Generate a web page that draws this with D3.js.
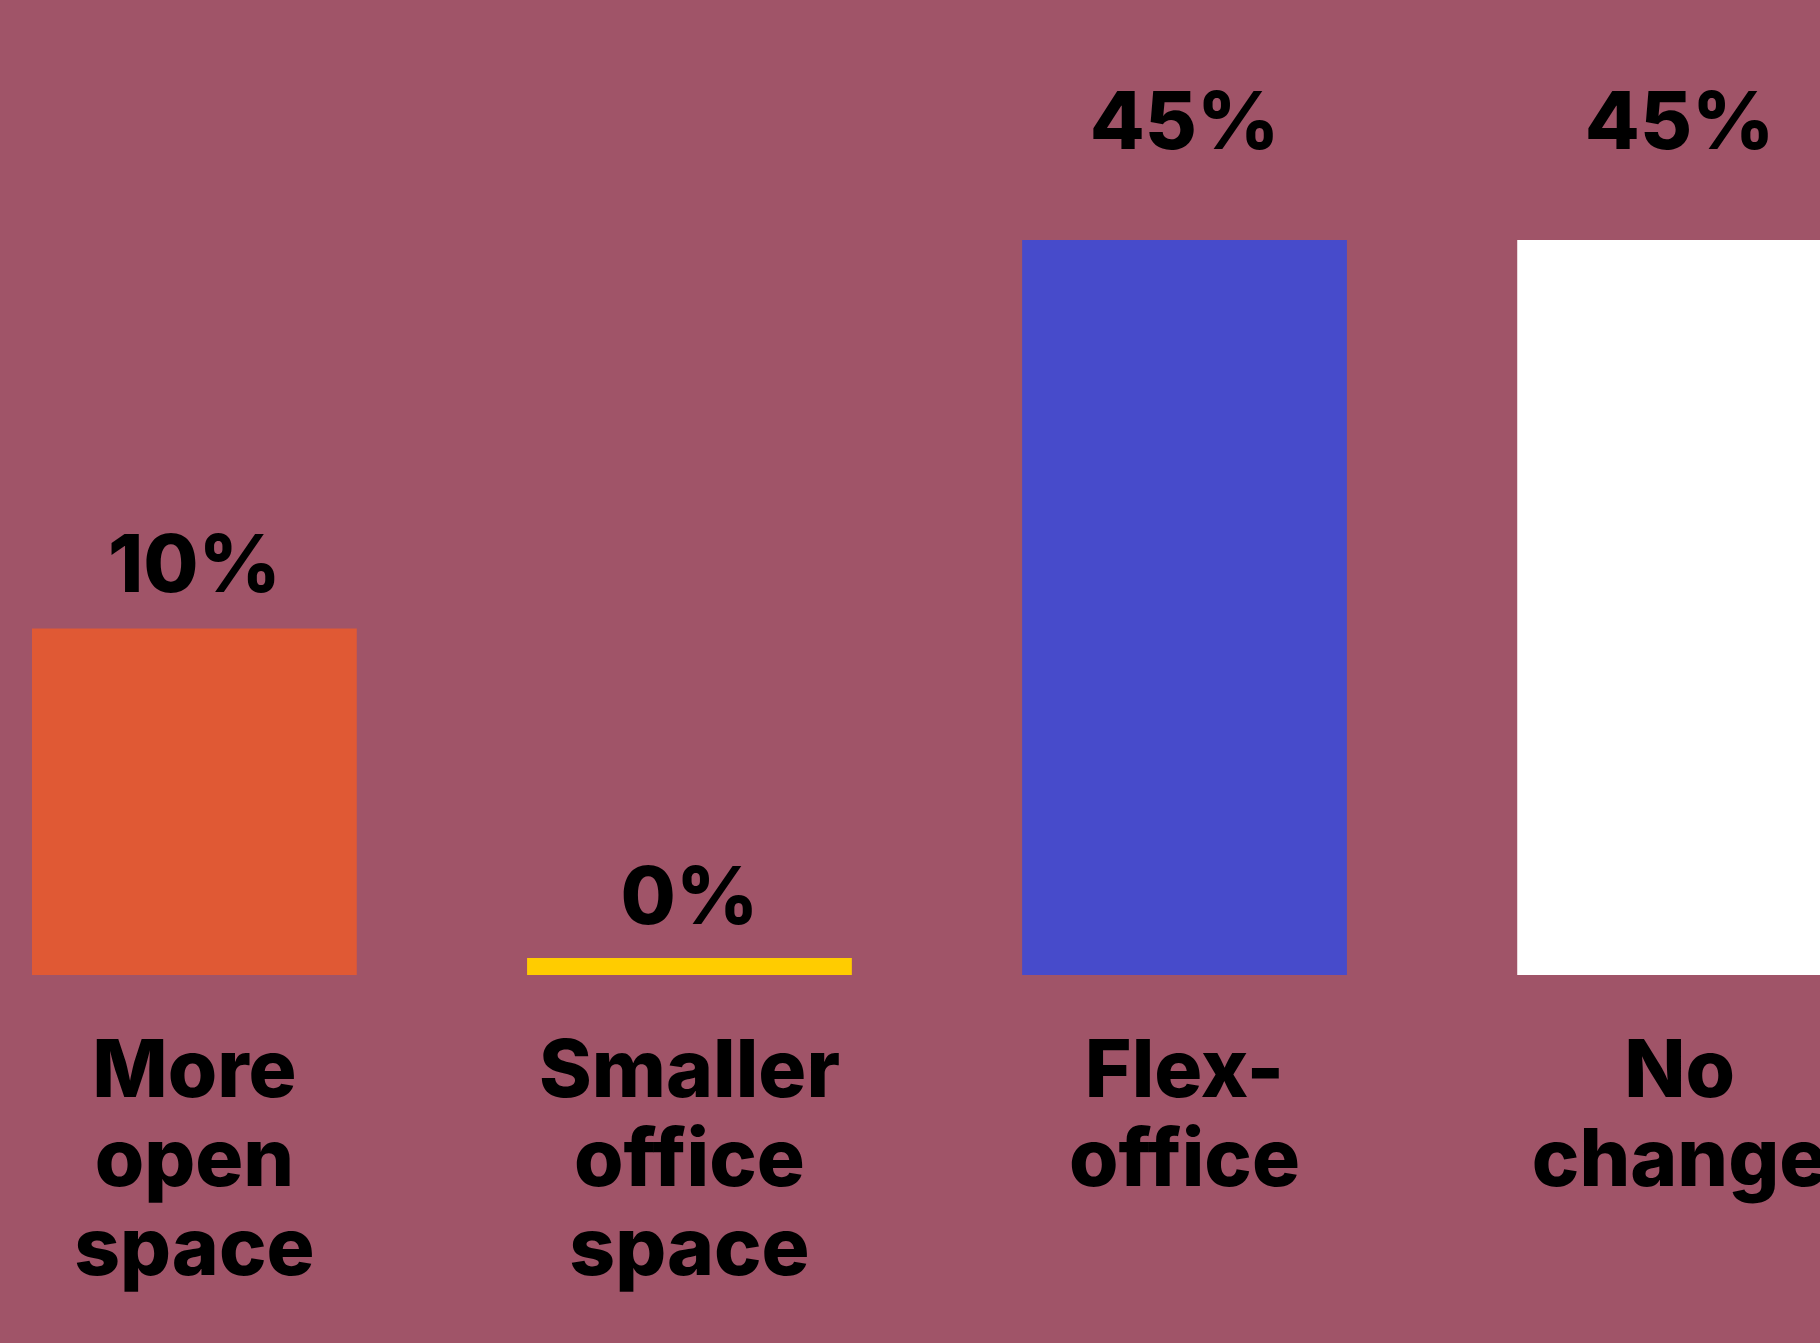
<!DOCTYPE html>
<html>
<head>
<meta charset="utf-8">
<script src="https://cdn.jsdelivr.net/npm/d3@7"></script>
<style>
  html, body { margin: 0; padding: 0; background: #a05468; }
  svg { display: block; }
  text { font-family: Inter, "Noto Sans", sans-serif; font-weight: 800; fill: #000; }
</style>
</head>
<body>
<script>
const width = 1820;
const height = 1343;

// data
const categories = ['More open space', 'Smaller office space', 'Flex-office', 'No change'];
const labelLines = [['More', 'open', 'space'], ['Smaller', 'office', 'space'], ['Flex-', 'office'], ['No', 'change']];
const values = [10, 0, 45, 45];
const valueLabels = ['10%', '0%', '45%', '45%'];
const colors = ['#e05934', '#ffcc00', '#474bcb', '#ffffff'];

const baseline = 975;

const x = d3.scaleBand()
  .domain(categories)
  .range([32, 1842])
  .paddingInner(0.344)
  .paddingOuter(0);

// bars scale with square root of value
const y = d3.scaleSqrt()
  .domain([0, 45])
  .range([baseline, 240]);

// gap between bar top and its value label
const labelGap = d3.scalePow().exponent(2)
  .domain([0, 45])
  .range([34, 91]);

const minBar = 17;

const svg = d3.select('body')
  .append('svg')
  .attr('width', width)
  .attr('height', height);

svg.append('rect')
  .attr('width', width)
  .attr('height', height)
  .attr('fill', '#a05468');

const rows = categories.map((c, i) => ({ cat: c, v: values[i], label: valueLabels[i], color: colors[i], lines: labelLines[i] }));

svg.selectAll('rect.bar')
  .data(rows)
  .enter()
  .append('rect')
  .attr('class', 'bar')
  .attr('x', d => x(d.cat))
  .attr('width', x.bandwidth())
  .attr('y', d => Math.min(y(d.v), baseline - minBar))
  .attr('height', d => Math.max(baseline - y(d.v), minBar))
  .attr('fill', d => d.color);

svg.selectAll('text.value')
  .data(rows)
  .enter()
  .append('text')
  .attr('class', 'value')
  .attr('x', d => x(d.cat) + x.bandwidth() / 2)
  .attr('y', d => Math.min(y(d.v), baseline - minBar) - labelGap(d.v))
  .attr('text-anchor', 'middle')
  .attr('font-size', 80)
  .text(d => d.label);

const cats = svg.selectAll('text.cat')
  .data(rows)
  .enter()
  .append('text')
  .attr('class', 'cat')
  .attr('text-anchor', 'middle')
  .attr('font-size', 80);

cats.selectAll('tspan')
  .data(d => d.lines.map(l => ({ l, cx: x(d.cat) + x.bandwidth() / 2 })))
  .enter()
  .append('tspan')
  .attr('x', d => d.cx)
  .attr('y', (d, i) => 1097 + i * 89)
  .text(d => d.l);
</script>
</body>
</html>
